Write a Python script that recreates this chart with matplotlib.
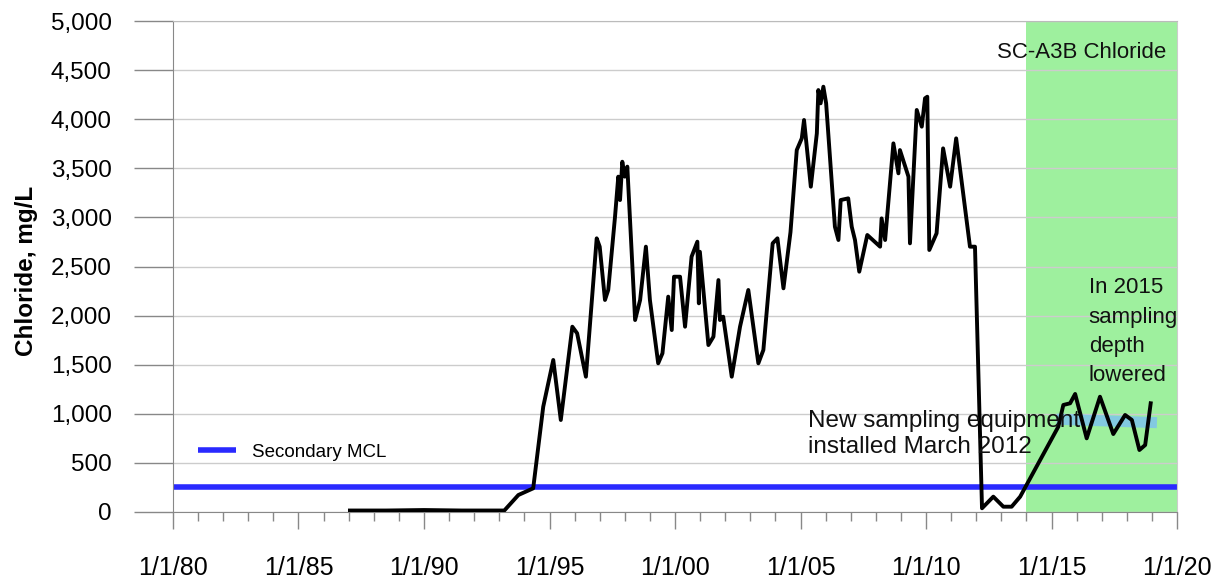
import matplotlib
matplotlib.use("Agg")
import matplotlib.pyplot as plt
from matplotlib.ticker import FixedLocator, MultipleLocator

# chloride at SC-A3B, decimal year vs mg/L
years = [1987.05, 1988.5, 1990.0, 1991.5, 1993.2, 1993.76, 1994.35, 1994.75,
         1995.15, 1995.45, 1995.91, 1996.1, 1996.45, 1996.88, 1997.0, 1997.21,
         1997.34, 1997.61, 1997.74, 1997.81, 1997.9, 1998.0, 1998.1, 1998.41,
         1998.61, 1998.84, 1999.0, 1999.33, 1999.5, 1999.73, 1999.87, 1999.96,
         2000.2, 2000.4, 2000.66, 2000.89, 2000.95, 2000.99, 2001.33, 2001.53,
         2001.73, 2001.79, 2001.92, 2002.26, 2002.59, 2002.92, 2003.32, 2003.52,
         2003.89, 2004.08, 2004.32, 2004.6, 2004.85, 2005.05, 2005.14, 2005.41,
         2005.65, 2005.71, 2005.8, 2005.91, 2006.02, 2006.37, 2006.51, 2006.6,
         2006.9, 2007.04, 2007.17, 2007.34, 2007.66, 2008.17, 2008.23, 2008.37,
         2008.7, 2008.9, 2008.96, 2009.3, 2009.36, 2009.63, 2009.83, 2009.96,
         2010.05, 2010.13, 2010.42, 2010.68, 2010.96, 2011.2, 2011.75, 2011.95,
         2012.23, 2012.68, 2013.08, 2013.41, 2013.75, 2015.27, 2015.47, 2015.74,
         2015.94, 2016.4, 2016.93, 2017.46, 2017.93, 2018.2, 2018.5, 2018.73,
         2018.95]
chloride = [15, 15, 20, 15, 15, 173, 241, 1072,
            1548, 937, 1887, 1820, 1378, 2787, 2702, 2159,
            2261, 3007, 3415, 3177, 3567, 3415, 3517, 1955,
            2159, 2702, 2159, 1514, 1616, 2193, 1853, 2396,
            2396, 1887, 2600, 2753, 2125, 2650, 1700, 1785,
            2362, 1955, 1989, 1378, 1887, 2261, 1514, 1650,
            2736, 2787, 2278, 2850, 3686, 3805, 3992, 3313,
            3856, 4297, 4162, 4331, 4162, 2905, 2770, 3177,
            3194, 2905, 2770, 2447, 2821, 2702, 2990, 2770,
            3754, 3449, 3686, 3415, 2736, 4094, 3924, 4213,
            4229, 2668, 2838, 3703, 3313, 3805, 2702, 2702,
            38, 156, 54, 54, 156, 869, 1090, 1107,
            1202, 750, 1174, 794, 988, 937, 631, 682,
            1107]

mcl_value = 250
mcl_years = [1980, 2020]

avg_years = [2015.2, 2019.2]
avg_values = [945, 910]

shade_years = [2014.0, 2020.0]

yticks = [0, 500, 1000, 1500, 2000, 2500, 3000, 3500, 4000, 4500, 5000]
ytick_labels = ["0", "500", "1,000", "1,500", "2,000", "2,500", "3,000",
                "3,500", "4,000", "4,500", "5,000"]
xticks = [1980, 1985, 1990, 1995, 2000, 2005, 2010, 2015, 2020]
xtick_labels = ["1/1/80", "1/1/85", "1/1/90", "1/1/95", "1/1/00", "1/1/05",
                "1/1/10", "1/1/15", "1/1/20"]

plt.rcParams["font.family"] = ["Liberation Sans", "DejaVu Sans"]

fig = plt.figure(figsize=(12.32, 5.84), dpi=100)
ax = fig.add_axes([0.1404, 0.1233, 0.8150, 0.8407])

ax.axvspan(shade_years[0], shade_years[1], color="#9ef09e", zorder=0.3, lw=0)
ax.set_axisbelow(True)
ax.grid(axis="y", color="#cccccc", lw=1)

ax.plot(mcl_years, [mcl_value, mcl_value], color="#2a2aff", lw=4,
        solid_capstyle="butt", label="Secondary MCL", zorder=2)
ax.plot(avg_years, avg_values, color="#7cc0f2", lw=8, alpha=0.8,
        solid_capstyle="butt", zorder=2)
ax.plot(years, chloride, color="black", lw=2.8, zorder=3)

ax.set_xlim(1980, 2020)
ax.set_ylim(0, 5000)
ax.xaxis.set_major_locator(FixedLocator(xticks))
ax.set_xticklabels(xtick_labels)
ax.xaxis.set_minor_locator(MultipleLocator(1))
ax.yaxis.set_major_locator(FixedLocator(yticks))
ax.set_yticklabels(ytick_labels)

ax.tick_params(axis="x", which="major", length=12, width=1, color="#888888",
               pad=20, labelsize=18)
ax.tick_params(axis="x", which="minor", length=6.5, width=1, color="#888888")
ax.tick_params(axis="y", length=28, width=1, color="#888888", pad=16,
               labelsize=17.5)

for side in ["left", "bottom"]:
    ax.spines[side].set_color("#888888")
ax.spines["top"].set_color("#bbbbbb")
ax.spines["right"].set_color("#cccccc")

ax.set_ylabel("Chloride, mg/L", fontsize=17.5, fontweight="bold")
ax.yaxis.set_label_coords(-0.1345, 0.49)

ax.legend(loc="center left", bbox_to_anchor=(0.025, 0.122), frameon=False,
          borderpad=0, borderaxespad=0, handlelength=2.0, handletextpad=0.9,
          prop={"size": 13.5})

ax.text(2019.56, 4623, "SC-A3B Chloride", ha="right", va="baseline",
        fontsize=16, color="#111111")
ax.text(2016.48, 2390, "In 2015\nsampling\ndepth\nlowered", ha="left",
        va="top", fontsize=16, linespacing=1.52, color="#111111")
ax.text(2005.29, 1040, "New sampling equipment\ninstalled March 2012",
        ha="left", va="top", fontsize=17.5, linespacing=1.25, color="#111111")

fig.savefig("out.png", dpi=100)
